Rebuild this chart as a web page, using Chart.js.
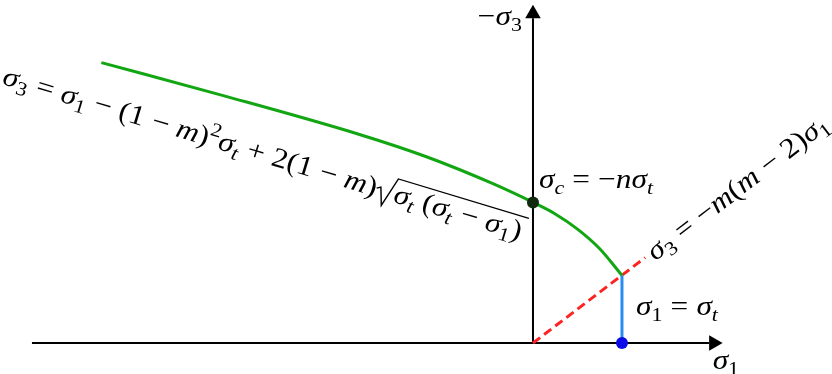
<!DOCTYPE html>
<html>
<head>
<meta charset="utf-8">
<script src="https://cdn.jsdelivr.net/npm/chart.js@4.4.1/dist/chart.umd.min.js"></script>
<style>
  body { margin: 0; background: #fff; }
  #wrap { width: 832px; height: 374px; position: relative; }
</style>
</head>
<body>
<div id="wrap"><canvas id="failureChart"></canvas></div>
<script>
// values, sigma_t = 1
const sigma1Curve = [-4.85, -3.48, -1.94, -1.19, -0.45, 0, 0.25, 0.5, 0.75, 1];
const minusSigma3Curve = [3.15, 2.78, 2.34, 2.09, 1.79, 1.58, 1.45, 1.28, 1.06, 0.76];
const sigmaT = 1;
const sigmaC = 1.58;
const sigma3AtT = 0.76;
const tensionLineX = [0, 1.26];
const tensionLineY = [0, 0.96];
const xAxisEnds = [-5.63, 2.03];
const yAxisEnds = [0, 3.70];

const toPts = (xs, ys) => xs.map((x, i) => ({ x: x, y: ys[i] }));

const FONT = '"Liberation Serif", "DejaVu Serif", serif';
const STRETCH = 1.12; // widen glyphs a bit, TeX fonts are broader

// tiny math text helper: segments [text, style]
function drawMath(ctx, segs, size, draw) {
    let x = 0;
    for (const seg of segs) {
        const txt = seg[0], st = seg[1];
        if (st === 'sqrt') {
            const x0 = x;
            const inner = drawMath(ctx, txt, size, false);
            const top = -size * 0.84;
            if (draw) {
                ctx.save();
                ctx.lineWidth = 1.3;
                ctx.beginPath();
                ctx.moveTo(x0, -size * 0.3);
                ctx.lineTo(x0 + size * 0.12, -size * 0.38);
                ctx.lineTo(x0 + size * 0.3, size * 0.24);
                ctx.lineTo(x0 + size * 0.58, top);
                ctx.lineTo(x0 + size * 0.6 + inner + 3, top);
                ctx.stroke();
                ctx.translate(x0 + size * 0.6, 0);
                drawMath(ctx, txt, size, true);
                ctx.restore();
            }
            x = x0 + size * 0.6 + inner + 3;
            continue;
        }
        if (st === 'op') {
            // relation / binary operator with TeX-like spacing
            ctx.font = size + 'px ' + FONT;
            x += size * 0.26;
            if (draw) ctx.fillText(txt, x, 0);
            x += ctx.measureText(txt).width + size * 0.26;
            continue;
        }
        const small = st === 'sub' || st === 'subi' || st === 'sup';
        const fs = small ? size * 0.7 : size;
        const italic = st === 'i' || st === 'subi';
        ctx.font = (italic ? 'italic ' : '') + fs + 'px ' + FONT;
        const dy = (st === 'sub' || st === 'subi') ? size * 0.2 : (st === 'sup' ? -size * 0.4 : 0);
        if (draw) ctx.fillText(txt, x, dy);
        x += ctx.measureText(txt).width;
    }
    return x;
}

const labels = [
    { at: [0, 3.57], dx: -11, dy: 0, rot: 0, align: 'right',
      segs: [['−', 'r'], ['σ', 'i'], ['3', 'sub']] },
    { at: [xAxisEnds[1], 0], dx: -1, dy: 26, rot: 0, align: 'left',
      segs: [['σ', 'i'], ['1', 'sub']] },
    { at: [0, sigmaC], dx: 6, dy: -14, rot: 0, align: 'left',
      segs: [['σ', 'i'], ['c', 'subi'], ['=', 'op'], ['−', 'r'], ['nσ', 'i'], ['t', 'subi']] },
    { at: [sigmaT, 0], dx: 14, dy: -28, rot: 0, align: 'left',
      segs: [['σ', 'i'], ['1', 'sub'], ['=', 'op'], ['σ', 'i'], ['t', 'subi']] },
    { at: [tensionLineX[1], tensionLineY[1]], dx: 10, dy: 4, rot: -37.4, align: 'left',
      segs: [['σ', 'i'], ['3', 'sub'], ['=', 'op'], ['−', 'r'], ['m', 'i'], ['(', 'r'], ['m', 'i'], ['−', 'op'], ['2)', 'r'], ['σ', 'i'], ['1', 'sub']] },
    { at: [sigma1Curve[0], minusSigma3Curve[0]], dx: -100, dy: 21, rot: 16.8, align: 'left',
      segs: [['σ', 'i'], ['3', 'sub'], ['=', 'op'], ['σ', 'i'], ['1', 'sub'], ['−', 'op'], ['(1', 'r'], ['−', 'op'], ['m', 'i'], [')', 'r'], ['2', 'sup'],
             ['σ', 'i'], ['t', 'subi'], ['+', 'op'], ['2(1', 'r'], ['−', 'op'], ['m', 'i'], [')', 'r'],
             [[['σ', 'i'], ['t', 'subi'], [' (', 'r'], ['σ', 'i'], ['t', 'subi'], ['−', 'op'], ['σ', 'i'], ['1', 'sub'], [')', 'r']], 'sqrt']] }
];
const LABEL_SIZE = 28;

const mathLabels = {
    id: 'mathLabels',
    afterDatasetsDraw(chart) {
        const ctx = chart.ctx;
        const xs = chart.scales.x, ys = chart.scales.y;
        ctx.save();
        ctx.fillStyle = '#000';
        ctx.strokeStyle = '#000';
        ctx.textBaseline = 'alphabetic';
        ctx.textAlign = 'left';
        labels.forEach(l => {
            const px = xs.getPixelForValue(l.at[0]) + l.dx;
            const py = ys.getPixelForValue(l.at[1]) + l.dy;
            ctx.save();
            ctx.translate(px, py);
            ctx.rotate(l.rot * Math.PI / 180);
            ctx.scale(STRETCH, 1);
            if (l.align === 'right') {
                const w = drawMath(ctx, l.segs, LABEL_SIZE, false);
                ctx.translate(-w, 0);
            }
            drawMath(ctx, l.segs, LABEL_SIZE, true);
            ctx.restore();
        });
        ctx.restore();
    }
};

const ctx = document.getElementById('failureChart').getContext('2d');
const failureChart = new Chart(ctx, {
    type: 'scatter',
    data: {
        datasets: [
            // dots on top
            {
                data: [{ x: sigmaT, y: 0 }],
                pointRadius: 6, pointBackgroundColor: '#0b0be8', pointBorderWidth: 0,
                order: 0
            },
            {
                data: [{ x: 0, y: sigmaC }],
                pointRadius: 6, pointBackgroundColor: '#0f2a0f', pointBorderWidth: 0,
                order: 1
            },
            {
                // failure envelope
                data: toPts(sigma1Curve, minusSigma3Curve),
                showLine: true, borderColor: '#12a612', borderWidth: 3,
                pointRadius: 0, cubicInterpolationMode: 'monotone',
                order: 2
            },
            {
                data: [{ x: sigmaT, y: 0 }, { x: sigmaT, y: sigma3AtT }],
                showLine: true, borderColor: '#2b8cf0', borderWidth: 3, pointRadius: 0,
                order: 3
            },
            {
                data: toPts(tensionLineX, tensionLineY),
                showLine: true, borderColor: '#ff2222', borderWidth: 3, borderDash: [9, 5],
                pointRadius: 0,
                order: 4
            },
            // axes with arrow heads
            {
                data: [{ x: xAxisEnds[0], y: 0 }, { x: xAxisEnds[1] - 0.05, y: 0 }],
                showLine: true, borderColor: '#000', borderWidth: 2, pointRadius: 0,
                order: 5
            },
            {
                data: [{ x: 0, y: yAxisEnds[0] }, { x: 0, y: yAxisEnds[1] - 0.05 }],
                showLine: true, borderColor: '#000', borderWidth: 2, pointRadius: 0,
                order: 5
            },
            {
                data: [{ x: xAxisEnds[1], y: 0 }],
                pointStyle: 'triangle', pointRotation: 90, pointRadius: 9,
                pointBackgroundColor: '#000', pointBorderWidth: 0,
                order: 5
            },
            {
                data: [{ x: 0, y: yAxisEnds[1] }],
                pointStyle: 'triangle', pointRotation: 0, pointRadius: 9,
                pointBackgroundColor: '#000', pointBorderWidth: 0,
                order: 5
            }
        ]
    },
    options: {
        responsive: true,
        maintainAspectRatio: false,
        animation: false,
        layout: { padding: 0, autoPadding: false },
        scales: {
            x: { type: 'linear', display: false, min: -5.989, max: 3.360 },
            y: { type: 'linear', display: false, min: -0.348, max: 3.854 }
        },
        plugins: {
            legend: { display: false },
            tooltip: { enabled: false }
        }
    },
    plugins: [mathLabels]
});
</script>
</body>
</html>
